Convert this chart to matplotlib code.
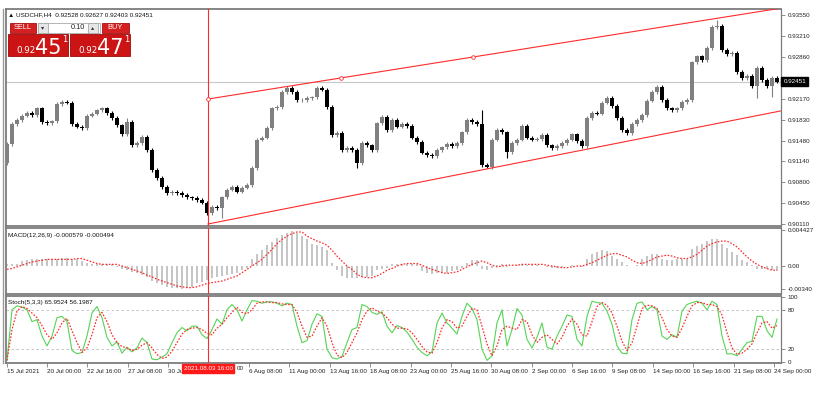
import numpy as np
import matplotlib
matplotlib.use("Agg")
import matplotlib.pyplot as plt
from matplotlib.patches import Rectangle
from matplotlib.transforms import blended_transform_factory

plt.rcParams['font.family'] = ['Liberation Sans', 'DejaVu Sans']

# ---- data (one entry ~ two H4 bars) ----
first_open = 0.91114
closes = [
    0.91427, 0.91756, 0.91822, 0.91888, 0.91937, 0.91904, 0.92019, 0.91789, 0.91772, 0.91805,
    0.92085, 0.92118, 0.92102, 0.91756, 0.91707, 0.91690, 0.91888, 0.91921, 0.91986, 0.92019,
    0.91937, 0.91855, 0.91739, 0.91591, 0.91789, 0.91410, 0.91443, 0.91542, 0.91328, 0.90999,
    0.90867, 0.90719, 0.90620, 0.90637, 0.90620, 0.90587, 0.90554, 0.90538, 0.90505, 0.90456,
    0.90291, 0.90390, 0.90373, 0.90554, 0.90670, 0.90719, 0.90637, 0.90703, 0.90752, 0.91032,
    0.91493, 0.91526, 0.91690, 0.92019, 0.92036, 0.92283, 0.92349, 0.92283, 0.92151, 0.92151,
    0.92184, 0.92200, 0.92349, 0.92316, 0.92036, 0.91575, 0.91608, 0.91328, 0.91361, 0.91328,
    0.91114, 0.91443, 0.91410, 0.91328, 0.91772, 0.91871, 0.91657, 0.91822, 0.91707, 0.91756,
    0.91723, 0.91526, 0.91460, 0.91279, 0.91246, 0.91229, 0.91328, 0.91377, 0.91427, 0.91394,
    0.91443, 0.91624, 0.91822, 0.91789, 0.91756, 0.91081, 0.91048, 0.91493, 0.91657, 0.91624,
    0.91295, 0.91443, 0.91493, 0.91723, 0.91526, 0.91493, 0.91509, 0.91575, 0.91410, 0.91361,
    0.91394, 0.91443, 0.91493, 0.91591, 0.91476, 0.91394, 0.91855, 0.91937, 0.91921, 0.92102,
    0.92184, 0.92052, 0.91855, 0.91657, 0.91608, 0.91756, 0.91822, 0.91904, 0.92135, 0.92283,
    0.92365, 0.92151, 0.92019, 0.91986, 0.92019, 0.92118, 0.92151, 0.92776, 0.92875, 0.92809,
    0.93007, 0.93353, 0.93369, 0.92974, 0.92908, 0.92925, 0.92612, 0.92513, 0.92546, 0.92381,
    0.92678, 0.92480, 0.92381, 0.92513, 0.92451,
]
wick_highs = {24: 0.91855, 95: 0.91986, 142: 0.93468}
wick_lows = {43: 0.90209, 70: 0.91032, 96: 0.91032, 100: 0.91197, 150: 0.92184, 153: 0.92200}

macd_hist_e4 = [
    2, 2, 3, 6, 7, 8, 8, 9, 8, 8,
    9, 10, 10, 9, 8, 6, 4, 3, 3, 3,
    3, 2, -1, -3, -5, -7, -9, -11, -13, -18,
    -21, -23, -25, -26, -27, -28, -27, -25, -21, -19,
    -17, -15, -13, -12, -11, -10, -8, -5, -2, 8,
    14, 19, 25, 29, 34, 37, 40, 42, 40, 36,
    33, 27, 25, 23, 19, 4, -5, -12, -15, -15,
    -14, -13, -13, -12, -5, -3, -2, 2, 3, 3,
    3, 2, 2, -6, -8, -10, -9, -9, -8, -6,
    -5, -2, 4, 7, 7, -3, -5, -2, 1, 2,
    -1, 0, 1, 2, 1, 1, 1, 0, -1, -2,
    -2, -1, 0, 1, 0, -1, 8, 15, 17, 19,
    18, 12, 8, 5, 1, 0, 1, 9, 12, 15,
    15, 8, 7, 7, 9, 9, 9, 20, 24, 27,
    30, 33, 33, 27, 22, 17, 13, 7, 5, 1,
    -3, -4, -4, -5, -6,
]
macd_signal_e4 = [
    -4, -3, -1, 1, 3, 5, 6, 7, 8, 8,
    8, 8, 8, 8, 9, 9, 7, 5, 3, 2,
    2, 2, 2, 0, -2, -4, -6, -8, -11, -13,
    -16, -18, -20, -22, -24, -25, -26, -26, -25, -23,
    -21, -20, -19, -18, -16, -14, -12, -8, -4, 0,
    4, 8, 14, 20, 27, 32, 36, 39, 41, 41,
    36, 33, 30, 28, 25, 19, 12, 6, 0, -4,
    -10, -13, -14, -14, -12, -9, -5, -3, 0, 2,
    3, 3, 3, 1, -2, -4, -6, -8, -9, -8,
    -7, -4, -1, 2, 4, 6, 4, 1, -1, 0,
    1, 1, 1, 2, 2, 2, 2, 2, 1, 0,
    -1, -2, -2, -1, 0, 0, 2, 4, 7, 10,
    13, 15, 15, 13, 11, 7, 4, 3, 5, 8,
    11, 12, 13, 12, 10, 9, 9, 11, 14, 19,
    24, 27, 29, 30, 30, 27, 23, 17, 11, 6,
    2, -1, -3, -5, -5,
]
stoch_main = [
    3, 80, 86, 84, 80, 62, 65, 40, 25, 40,
    68, 70, 62, 18, 13, 15, 40, 75, 85, 68,
    38, 25, 31, 14, 23, 16, 22, 37, 30, 5,
    4, 8, 13, 30, 45, 53, 48, 55, 55, 42,
    36, 50, 66, 58, 80, 88, 80, 63, 80, 94,
    93, 90, 92, 92, 90, 86, 90, 88, 55, 30,
    33, 58, 74, 70, 20, 7, 5, 9, 30, 50,
    53, 88, 85, 76, 73, 77, 55, 45, 56, 53,
    46, 35, 23, 15, 10, 16, 60, 75, 60, 52,
    43, 70, 90, 82, 65, 20, 3, 10, 60, 80,
    25, 50, 82, 72, 35, 22, 38, 60, 23, 20,
    40, 55, 72, 70, 35, 25, 70, 93, 91, 90,
    78, 58, 25, 14, 13, 65, 90, 92, 80, 85,
    80, 40, 35, 42, 38, 78, 88, 91, 93, 90,
    80, 93, 88, 40, 13, 13, 10, 20, 30, 32,
    70, 70, 48, 38, 66,
]
stoch_signal = [
    3, 50, 78, 85, 82, 75, 68, 56, 42, 35,
    45, 60, 67, 48, 30, 15, 22, 42, 68, 76,
    62, 42, 30, 24, 22, 18, 20, 26, 30, 22,
    12, 6, 8, 17, 30, 43, 50, 52, 53, 50,
    44, 42, 52, 58, 68, 76, 84, 76, 74, 80,
    90, 92, 92, 91, 91, 89, 88, 88, 76, 55,
    38, 40, 55, 68, 55, 30, 11, 7, 15, 30,
    45, 65, 78, 83, 78, 75, 68, 58, 52, 52,
    51, 45, 35, 24, 16, 14, 30, 52, 65, 62,
    52, 55, 70, 82, 80, 55, 28, 10, 25, 50,
    55, 52, 50, 65, 62, 42, 30, 38, 42, 35,
    28, 38, 55, 66, 58, 42, 40, 62, 85, 91,
    87, 75, 55, 32, 18, 30, 55, 82, 87, 86,
    82, 68, 50, 40, 38, 52, 70, 86, 91, 91,
    88, 88, 85, 72, 45, 22, 12, 14, 20, 28,
    45, 60, 62, 52, 56,
]

price_ticks = [0.93550, 0.93210, 0.92860, 0.92520, 0.92170, 0.91830,
               0.91480, 0.91140, 0.90800, 0.90450, 0.90110]
hidden_price = 0.92520  # sits under the current-price box
# labels partly hidden by the crosshair date box show only what is visible
date_labels = ["15 Jul 2021", "20 Jul 00:00", "22 Jul 16:00", "27 Jul 08:00", "30 Jul",
               "", "6 Aug 08:00", "11 Aug 00:00", "13 Aug 16:00", "18 Aug 08:00",
               "23 Aug 00:00", "25 Aug 16:00", "30 Aug 08:00", "2 Sep 00:00", "6 Sep 16:00",
               "9 Sep 08:00", "14 Sep 00:00", "16 Sep 16:00", "21 Sep 08:00", "24 Sep 00:00"]
cross_date = "2021.08.03 16:00"

vline_x = 40.2
chan_marks_x = [40.2, 66.8, 93.2]
chan_marks_y = [0.92167, 0.92513, 0.92859]
chan_upper = ([40.2, 154.8], [0.92167, 0.93663])
chan_lower = ([40.2, 154.8], [0.90110, 0.91972])

header = "USDCHF,H4  0.92528 0.92627 0.92403 0.92451"
macd_title = "MACD(12,26,9) -0.000579 -0.000494"
stoch_title = "Stoch(5,3,3) 65.9524 56.1987"
sell_quote = ("0.92", "45", "1")
buy_quote = ("0.92", "47", "1")

# ---- figure ----
W, H = 827, 393
fig = plt.figure(figsize=(W / 100, H / 100), dpi=100)

def px_axes(left, top, right, bottom):
    return fig.add_axes([left / W, 1 - bottom / H, (right - left) / W, (bottom - top) / H])

ax_p = px_axes(6, 9, 781, 226)
ax_m = px_axes(6, 228, 781, 294)
ax_s = px_axes(6, 296, 781, 363)

closes = np.array(closes)
idx = np.arange(len(closes))
xlim = (-0.2, 154.8)
red = '#ff2a2a'
frame = '#7c7c7c'
fs = 4.5

for ax in (ax_p, ax_m, ax_s):
    ax.set_xlim(*xlim)
    for s in ax.spines.values():
        s.set_color(frame)
        s.set_linewidth(1.3)
    ax.spines['right'].set_linewidth(0.9)
    ax.yaxis.tick_right()
    ax.tick_params(axis='y', length=3, width=0.6, color=frame, labelsize=fs,
                   pad=1.5, labelcolor='#222222')
    ax.axvline(vline_x, color=red, lw=0.8, zorder=4)

# price panel
opens = np.r_[first_open, closes[:-1]]
up = closes >= opens
lo = np.minimum(opens, closes)
hi = np.maximum(opens, closes)
highs = hi + 0.00025
lows = lo - 0.00025
for j, v in wick_highs.items():
    highs[j] = v
for j, v in wick_lows.items():
    lows[j] = v
cols = np.where(up, '#808080', '#000000')
ax_p.vlines(idx, lows, highs, colors=cols, lw=0.8, zorder=3)
ax_p.bar(idx, np.maximum(hi - lo, 0.00006), bottom=lo, width=0.75, color=cols, lw=0, zorder=3)
ax_p.axhline(closes[-1], color='#c8c8c8', lw=0.8, zorder=1)
ax_p.plot(*chan_upper, color=red, lw=0.8, zorder=4)
ax_p.plot(*chan_lower, color=red, lw=0.8, zorder=4)
ax_p.plot(chan_marks_x, chan_marks_y, 'o', ms=2.6, mfc='white', mec=red, mew=0.6, zorder=5)
ax_p.set_ylim(0.90077, 0.93649)
ax_p.set_yticks(price_ticks)
ax_p.set_yticklabels(["" if v == hidden_price else f"{v:.5f}" for v in price_ticks])
ax_p.set_xticks([])
ax_p.text(1.003, closes[-1], f"{closes[-1]:.5f}",
          transform=blended_transform_factory(ax_p.transAxes, ax_p.transData),
          ha='left', va='center', fontsize=fs, color='white', zorder=10, clip_on=False,
          bbox=dict(boxstyle='square,pad=0.3', fc='black', ec='black'))
ax_p.text(0.003, 0.972, "\u25B2 " + header, transform=ax_p.transAxes, fontsize=4.6,
          ha='left', va='center', color='#111111')

# MACD panel
hist = np.array(macd_hist_e4) * 1e-4
sig = np.array(macd_signal_e4) * 1e-4
ax_m.bar(idx, hist, width=0.45, color='#c6c6c6', lw=0, zorder=2)
ax_m.plot(idx, sig, color=red, lw=0.9, ls=(0, (1.3, 1.3)), zorder=3)
ax_m.set_ylim(-0.00337, 0.00458)
ax_m.set_yticks([0.00434, 0.0, -0.00277])
ax_m.set_yticklabels(["0.004427", "0.00", "-0.00340"])
ax_m.set_xticks([])
ax_m.text(0.003, 0.89, macd_title, transform=ax_m.transAxes, fontsize=4.6,
          ha='left', va='center', color='#111111')

# Stochastic panel
ax_s.axhline(80, color='#bdbdbd', lw=0.6, ls=(0, (3, 3)), zorder=1)
ax_s.axhline(20, color='#bdbdbd', lw=0.6, ls=(0, (3, 3)), zorder=1)
ax_s.plot(idx, stoch_main, color='#55d455', lw=0.8, zorder=3)
ax_s.plot(idx, stoch_signal, color=red, lw=0.9, ls=(0, (1.3, 1.3)), zorder=3)
ax_s.set_ylim(-1, 101)
ax_s.set_yticks([100, 80, 20, 0])
ax_s.set_yticklabels(["100", "80", "20", "0"])
ax_s.text(0.003, 0.9, stoch_title, transform=ax_s.transAxes, fontsize=4.6,
          ha='left', va='center', color='#111111')
tick_pos = -0.08 + 8.078 * np.arange(len(date_labels))
ax_s.set_xticks(tick_pos)
ax_s.set_xticklabels(date_labels)
ax_s.tick_params(axis='x', length=3, width=0.6, color=frame, labelsize=fs,
                 pad=1.5, labelcolor='#222222')
for lab in ax_s.get_xticklabels():
    lab.set_ha('left')

# overlay: frame lines, trade panel, crosshair date box
ov = fig.add_axes([0, 0, 1, 1], zorder=10)
ov.set_xlim(0, W)
ov.set_ylim(H, 0)
ov.axis('off')
ov.patch.set_alpha(0)
ov.plot([2.5, 2.5], [9, 363], color='#9a9a9a', lw=1.0)
ov.text(208, 368.5, cross_date, ha='center', va='center', fontsize=fs, color='white',
        bbox=dict(boxstyle='square,pad=0.3', fc='#ff1a1a', ec='#ff1a1a'))
ov.text(236.5, 368.5, "00", ha='left', va='center', fontsize=fs, color='#222222')

btn_red = '#d42020'
ov.add_patch(Rectangle((10, 22.5), 26, 10.5, fc=btn_red, ec='#a51010', lw=0.6))
ov.text(23, 27.8, "SELL", ha='center', va='center', fontsize=5.3, color='white')
ov.add_patch(Rectangle((38, 22.5), 62, 10.5, fc='white', ec='#a8a8a8', lw=0.6))
ov.add_patch(Rectangle((38, 22.5), 10, 10.5, fc='#e6e6e6', ec='#a8a8a8', lw=0.6))
ov.add_patch(Rectangle((88, 22.5), 10, 10.5, fc='#e6e6e6', ec='#a8a8a8', lw=0.6))
ov.text(43, 27.8, "\u25BE", ha='center', va='center', fontsize=4.5, color='#333333',
        family='DejaVu Sans')
ov.text(93, 27.8, "\u25B4", ha='center', va='center', fontsize=4.5, color='#333333',
        family='DejaVu Sans')
ov.text(85.5, 27.8, "0.10", ha='right', va='center', fontsize=5.3, color='#222222')
ov.add_patch(Rectangle((102, 22.5), 27, 10.5, fc=btn_red, ec='#a51010', lw=0.6))
ov.text(115.5, 27.8, "BUY", ha='center', va='center', fontsize=5.3, color='white')

for x0, (small, big, sup) in ((8, sell_quote), (70, buy_quote)):
    ov.add_patch(Rectangle((x0, 33.5), 60, 22.5, fc='#cc1414', ec='#9c0a0a', lw=0.6))
    ov.text(x0 + 8, 53, small, ha='left', va='baseline', fontsize=6.3, color='white',
            family='DejaVu Sans')
    ov.text(x0 + 27, 53.5, big, ha='left', va='baseline', fontsize=15, color='white',
            family='DejaVu Sans')
    ov.text(x0 + 54, 42, sup, ha='left', va='baseline', fontsize=6, color='white',
            family='DejaVu Sans')

fig.savefig("out.png", dpi=100, facecolor='white')
